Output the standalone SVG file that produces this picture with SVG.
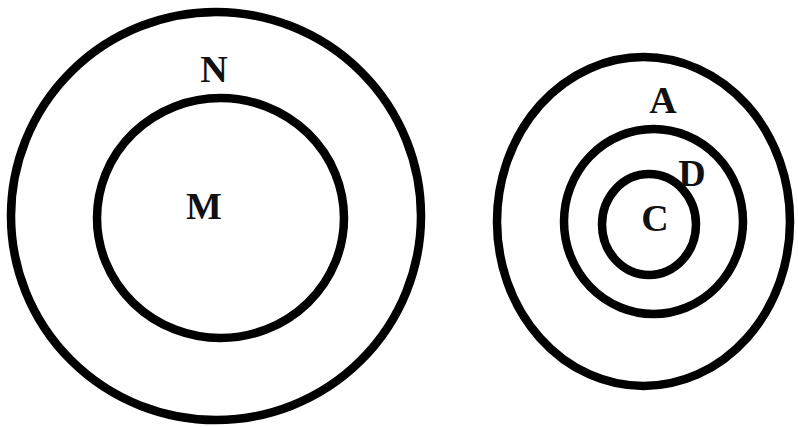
<svg xmlns="http://www.w3.org/2000/svg" width="798" height="427" viewBox="0 0 798 427">
<style>
.c{fill:none;stroke:#000;stroke-width:8.5}
.t{font-family:"Liberation Serif","Times New Roman",serif;font-weight:bold;font-size:38px;fill:#111;text-anchor:middle}
</style>
<rect width="798" height="427" fill="#fff"/>
<g id="N"><ellipse class="c" cx="216" cy="216" rx="205" ry="204"/><text class="t" x="214" y="82">N</text></g>
<g id="M"><ellipse class="c" cx="220.5" cy="218" rx="123.5" ry="120"/><text class="t" x="204" y="219">M</text></g>
<g id="A"><ellipse class="c" cx="643.5" cy="221.5" rx="146.5" ry="164.5"/><text class="t" x="663" y="113">A</text></g>
<g id="D"><ellipse class="c" cx="653.5" cy="221.5" rx="89.5" ry="92.5"/><text class="t" x="692" y="186">D</text></g>
<g id="C"><ellipse class="c" cx="649" cy="224.5" rx="47" ry="50.5"/><text class="t" x="655" y="231">C</text></g>
<g id="connectors"/>
</svg>
